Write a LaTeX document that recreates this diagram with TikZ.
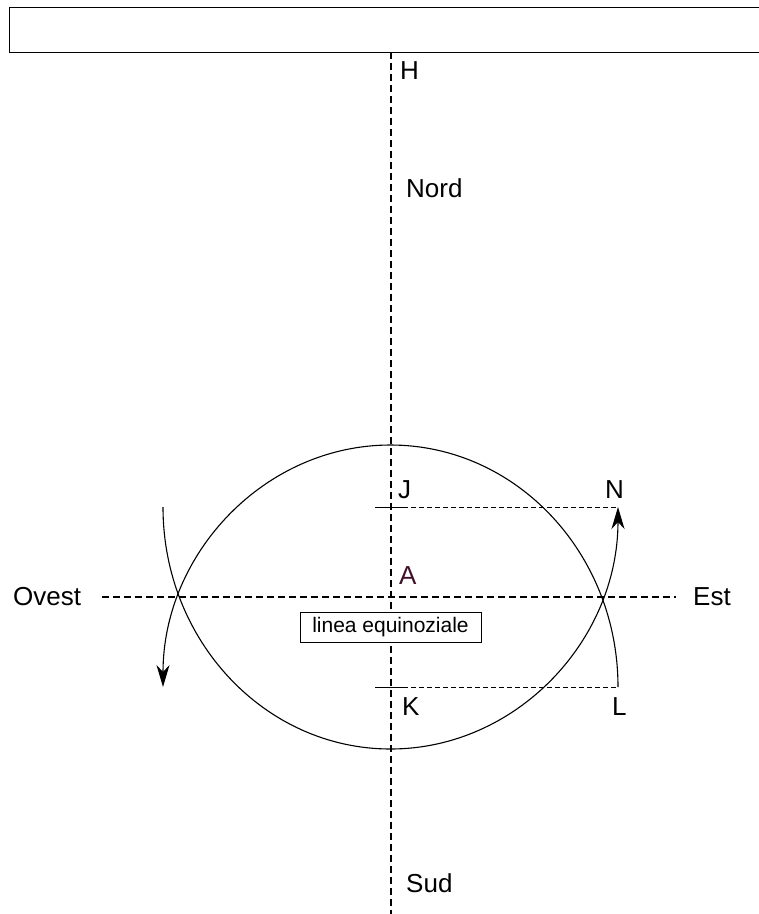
\documentclass[tikz,border=0pt]{standalone}
\usepackage{fontspec}
\setmainfont{Liberation Sans}
\definecolor{darkplum}{RGB}{64,16,40}
\usetikzlibrary{arrows.meta}

\begin{document}
\begin{tikzpicture}[x=1pt, y=-1pt,
    axis/.style={dash pattern=on 7pt off 4pt, line width=2pt},
    guide/.style={dash pattern=on 5pt off 3pt, line width=0.8pt},
    tick/.style={line width=0.8pt},
    orbit/.style={line width=1.1pt},
    arr/.style={orbit, -{Stealth[length=22pt, width=13pt, inset=7pt]}},
    lbl/.style={font=\fontsize{26}{30}\selectfont, inner sep=0pt, anchor=west},
    tag/.style={draw, fill=white, line width=0.8pt, font=\fontsize{21}{25}\selectfont,
                minimum width=181pt, minimum height=30pt, inner sep=0pt},
]
\useasboundingbox (0,0) rectangle (759,914);

% --- NODES ---
\node[draw, line width=1.3pt, anchor=north west, inner sep=0pt,
      minimum width=800pt, minimum height=45pt] (bar) at (9,7) {};

\coordinate (top) at (391,52);
\coordinate (bot) at (391,914);
\coordinate (west) at (102,597);
\coordinate (east) at (676,597);

\coordinate (j) at (375,507);
\coordinate (k) at (375,687);
\coordinate (n) at (618,507);
\coordinate (l) at (618,687);
\coordinate (w) at (163,507);

\node[lbl] (H) at (400,71) {H};
\node[lbl] (nord) at (406,188) {Nord};
\node[lbl] (J) at (398,490) {J};
\node[lbl] (N) at (605,490) {N};
\node[lbl, text=darkplum] (A) at (399,576) {A};
\node[lbl] (K) at (402,707) {K};
\node[lbl] (L) at (612,707) {L};
\node[lbl] (sud) at (406,883) {Sud};
\node[lbl] (ovest) at (13,597) {Ovest};
\node[lbl] (est) at (693,597) {Est};

% --- AXES ---
\draw[axis] (top) -- (bot);
\draw[axis] (west) -- (east);

\node[tag] (eq) at (390.5,627) {linea equinoziale};

% --- J / K ---
\draw[tick] (j) -- ++(28,0) coordinate (j1);
\draw[guide] (j1) -- (n);
\draw[tick] (k) -- ++(28,0) coordinate (k1);
\draw[guide] (k1) -- (l);

% --- PATHS ---
\draw[arr] (l) arc[start angle=0, end angle=180,
                   x radius=227.5pt, y radius=242pt];
\draw[arr] (w) arc[start angle=180, end angle=360,
                   x radius=227.5pt, y radius=242pt];

\end{tikzpicture}
\end{document}
